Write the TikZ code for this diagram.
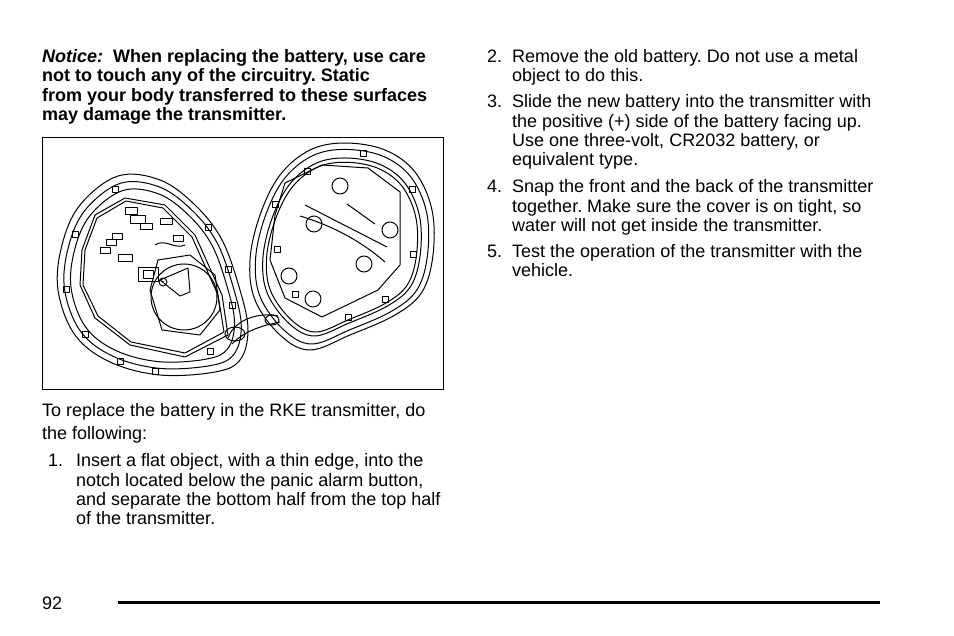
\documentclass[tikz,border=0pt]{standalone}
\usepackage{fontspec}
\setmainfont{Liberation Sans}
\frenchspacing
\begin{document}
\begin{tikzpicture}[x=1pt,y=-1pt,
  txt/.style={anchor=base west,inner sep=0,font=\fontsize{18}{19}\selectfont},
  ln/.style={line width=1pt,line join=round}]
\useasboundingbox (0,0) rectangle (954,636);
% left column
\node[txt] (n1) at (42,63) {\textbf{\textit{Notice:}}\hspace{10pt}\textbf{When replacing the battery, use care}};
\node[txt] (n2) at (42,82) {\textbf{not to touch any of the circuitry. Static}};
\node[txt] (n3) at (42,102) {\textbf{from your body transferred to these surfaces}};
\node[txt] (n4) at (42,121) {\textbf{may damage the transmitter.}};
\node[draw,line width=0.9pt,minimum width=401pt,minimum height=252pt,anchor=north west,inner sep=0] (box) at (42,137) {};
\node[txt] (p1) at (42,417) {To replace the battery in the RKE transmitter, do};
\node[txt] (p2) at (42,440) {the following:};
\node[txt] (s1) at (48,467) {1.};
\node[txt] (s1a) at (76,467) {Insert a flat object, with a thin edge, into the};
\node[txt] (s1b) at (76,486) {notch located below the panic alarm button,};
\node[txt] (s1c) at (76,505) {and separate the bottom half from the top half};
\node[txt] (s1d) at (76,524) {of the transmitter.};
% right column
\node[txt] (s2) at (487,63) {2.};
\node[txt] at (512,63) {Remove the old battery. Do not use a metal};
\node[txt] at (512,82) {object to do this.};
\node[txt] (s3) at (487,108) {3.};
\node[txt] at (512,108) {Slide the new battery into the transmitter with};
\node[txt] at (512,128) {the positive (+) side of the battery facing up.};
\node[txt] at (512,147) {Use one three-volt, CR2032 battery, or};
\node[txt] at (512,166) {equivalent type.};
\node[txt] (s4) at (487,193) {4.};
\node[txt] at (512,193) {Snap the front and the back of the transmitter};
\node[txt] at (512,213) {together. Make sure the cover is on tight, so};
\node[txt] at (512,232) {water will not get inside the transmitter.};
\node[txt] (s5) at (487,258) {5.};
\node[txt] at (512,258) {Test the operation of the transmitter with the};
\node[txt] at (512,277) {vehicle.};
\node[txt] (pg) at (42,609) {92};
\draw[line width=3pt] (118,602) -- (880,602);
% left housing
\def\lefthouse{plot[smooth cycle,tension=0.6] coordinates {(118,176) (160,180) (195,205) (222,240) (240,290) (248,330) (240,360) (215,372) (160,375) (110,362) (75,335) (58,290) (62,245) (80,205)}}
\draw[ln] \lefthouse;
\begin{scope}[shift={(152,280)},scale=0.93,shift={(-152,-280)}] \draw[ln] \lefthouse; \end{scope}
\begin{scope}[shift={(152,280)},scale=0.86,shift={(-152,-280)}] \draw[ln] \lefthouse; \end{scope}
\draw[ln] (82,250) -- (95,215) -- (125,198) -- (165,205) -- (195,235) -- (222,295) -- (228,335) -- (185,357) -- (130,345) -- (95,318) -- (80,285) -- cycle;
\draw[ln] (85,250) -- (97,218) -- (126,201) -- (163,208) -- (192,237) -- (218,295) -- (224,332) -- (185,353) -- (131,342) -- (98,316) -- (83,285) -- cycle;
\foreach \p in {(115,190),(75,235),(66,290),(85,335),(120,362),(155,372),(210,352),(232,306),(228,270),(208,228)}
  \draw[ln] \p ++(-3,-3) rectangle ++(6,6);
% battery
\draw[ln] (184,297) circle (33);
\draw[ln] (150,290) -- (158,260) -- (190,255) -- (215,275) -- (220,310) -- (200,335) -- (162,330) -- cycle;
\draw[ln] (160,280) -- (188,268) -- (190,292) -- (180,296) -- cycle;
\draw[ln] (163,282) circle (4);
\node[font=\tiny] at (163,282) {+};
\draw[ln] (138,282) rectangle (158,268);
\draw[ln] (143,279) rectangle (153,271);
% circuit parts
\draw[ln] (118,262) rectangle (132,255);
\draw[ln] (100,254) rectangle (110,248);
\draw[ln] (106,246) rectangle (116,240);
\draw[ln] (112,240) rectangle (122,234);
\draw[ln] (125,215) rectangle (137,208);
\draw[ln] (130,224) rectangle (145,216);
\draw[ln] (140,230) rectangle (152,224);
\draw[ln] (160,225) rectangle (172,219);
\draw[ln] (173,242) rectangle (183,236);
\draw[ln] (155,245) .. controls (165,238) and (175,250) .. (185,245);
% right housing
\def\righthouse{plot[smooth cycle,tension=0.6] coordinates {(345,143) (385,150) (415,172) (432,210) (433,255) (422,292) (395,315) (350,335) (310,350) (280,335) (255,300) (250,260) (260,215) (280,175) (310,150)}}
\draw[ln] \righthouse;
\begin{scope}[shift={(342,250)},scale=0.94,shift={(-342,-250)}] \draw[ln] \righthouse; \end{scope}
\begin{scope}[shift={(342,250)},scale=0.86,shift={(-342,-250)}] \draw[ln] \righthouse; \end{scope}
\begin{scope}[shift={(342,250)},scale=0.82,shift={(-342,-250)}] \draw[ln] \righthouse; \end{scope}
\draw[ln] (285,183) -- (322,165) -- (368,168) -- (400,192) -- (400,265) -- (378,290) -- (322,317) -- (285,298) -- (270,260) -- (275,215) -- cycle;
\foreach \p in {(363,154),(307,172),(412,190),(413,255),(385,300),(348,318),(295,295),(277,250),(275,205)}
  \draw[ln] \p ++(-3,-3) rectangle ++(6,6);
\foreach \c in {(340,186),(314,224),(390,230),(364,264),(289,276),(313,299)}
  \draw[ln] \c circle (8);
\draw[ln] (305,205) -- (387,247);
\draw[ln] (300,216) .. controls (330,225) and (360,240) .. (385,262);
\draw[ln] (347,204) -- (375,224);
% key ring
\draw[ln] (235,334) ellipse (10 and 7);
\draw[ln] (272,320) ellipse (7 and 5);
\draw[ln] (228,338) .. controls (235,318) and (262,312) .. (278,316);
\draw[ln] (232,344) .. controls (245,330) and (265,325) .. (280,322);
\end{tikzpicture}
\end{document}
